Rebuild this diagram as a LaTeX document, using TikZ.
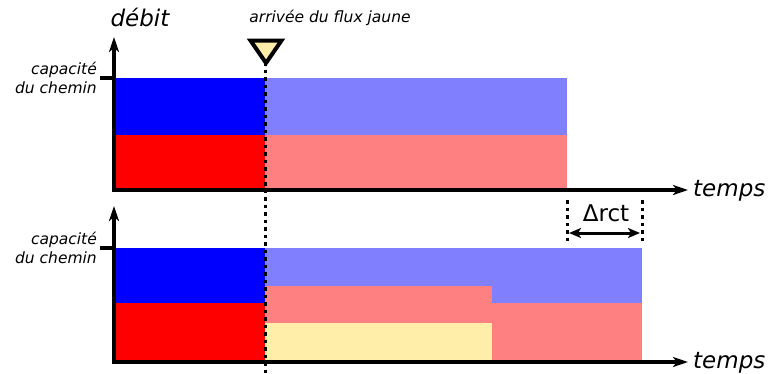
\documentclass[tikz,border=0pt]{standalone}
\usepackage{fontspec}
\setmainfont{DejaVu Sans}
\usetikzlibrary{arrows.meta}
\definecolor{cblue}{HTML}{0000FF}
\definecolor{cred}{HTML}{FF0000}
\definecolor{lblue}{HTML}{8080FF}
\definecolor{lred}{HTML}{FF8080}
\definecolor{cyel}{HTML}{FFEEAA}
\tikzset{
  axisline/.style={line width=3.5pt,-{Stealth[length=15pt,width=10pt,inset=4pt]}},
  tickline/.style={line width=3.5pt},
  dotline/.style={line width=3pt,dash pattern=on 3.5pt off 4pt},
  biglabel/.style={font=\fontsize{23}{26}\selectfont\itshape,inner sep=0pt},
  smalllabel/.style={font=\fontsize{15.5}{18}\selectfont\itshape,inner sep=0pt},
  caplabel/.style={font=\fontsize{15.5}{18.5}\selectfont\itshape,inner sep=0pt,align=right,anchor=east},
  dblarrow/.style={line width=3pt,{Stealth[length=12pt,width=10pt,inset=3pt]}-{Stealth[length=12pt,width=10pt,inset=3pt]}}
}
\begin{document}
\begin{tikzpicture}[x=1pt,y=-1pt]
\useasboundingbox (0,0) rectangle (768,373);
% top chart fills
\fill[cblue] (114,78) rectangle (265,135);
\fill[cred] (114,135) rectangle (265,190);
\fill[lblue] (265,78) rectangle (567,135);
\fill[lred] (265,135) rectangle (567,190);
% bottom chart fills
\fill[cblue] (114,248) rectangle (265,303);
\fill[cred] (114,303) rectangle (265,362);
\fill[lblue] (265,248) rectangle (642,303);
\fill[lred] (265,286) rectangle (492,323);
\fill[cyel] (265,323) rectangle (492,362);
\fill[lred] (492,303) rectangle (642,362);
% coordinates
\coordinate (o1) at (114,191.75);
\coordinate (y1) at (114,37);
\coordinate (x1) at (688,190);
\coordinate (t1a) at (100,78);
\coordinate (t1b) at (114,78);
\coordinate (o2) at (114,363.75);
\coordinate (y2) at (114,206);
\coordinate (x2) at (688,362);
\coordinate (t2a) at (100,248);
\coordinate (t2b) at (114,248);
\coordinate (dTop) at (265.5,62);
\coordinate (dBot) at (265.5,373);
\coordinate (ra) at (567,200);
\coordinate (rb) at (567,244);
\coordinate (rc) at (642,200);
\coordinate (rd) at (642,244);
\coordinate (aa) at (569,233);
\coordinate (ab) at (640,233);
% axes
\draw[axisline] (o1) -- (y1);
\draw[axisline] (112.25,190) -- (x1);
\draw[tickline] (t1a) -- (t1b);
\draw[axisline] (o2) -- (y2);
\draw[axisline] (112.25,362) -- (x2);
\draw[tickline] (t2a) -- (t2b);
% dotted arrival line
\draw[dotline] (dTop) -- (dBot);
% triangle marker
\draw[line width=4pt,fill=cyel,line join=miter] (250.5,40.5) -- (281.5,40.5) -- (266,63) -- cycle;
% delta rct
\draw[dotline] (ra) -- (rb);
\draw[dotline] (rc) -- (rd);
\draw[dblarrow] (aa) -- (ab);
% labels
\node[biglabel] (debit) at (140,17) {débit};
\node[smalllabel] (arr) at (330,18) {arrivée du flux jaune};
\node[caplabel] (cap1) at (97,78) {capacité\\du chemin};
\node[caplabel] (cap2) at (97,248) {capacité\\du chemin};
\node[biglabel,anchor=west] (temps1) at (693,191) {temps};
\node[biglabel,anchor=west] (temps2) at (693,363) {temps};
\node[font=\fontsize{23}{26}\selectfont,inner sep=0pt] (drct) at (606,213) {Δrct};
\end{tikzpicture}
\end{document}
